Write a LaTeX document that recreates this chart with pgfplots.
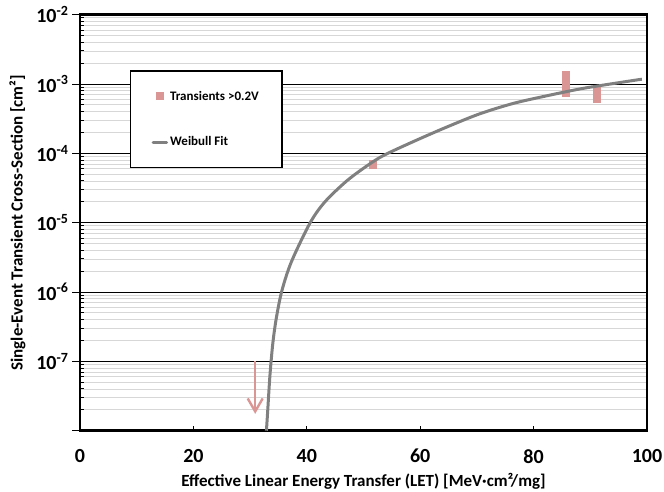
\documentclass[border=0pt]{standalone}
\usepackage{pgfplots}
\pgfplotsset{compat=1.18}
\usepackage{fontspec}
\setmainfont{Carlito}
\usetikzlibrary{arrows.meta}
\definecolor{setpink}{RGB}{217,150,148}
\definecolor{fitgray}{RGB}{128,128,128}
\definecolor{minorgray}{RGB}{215,215,215}
\begin{document}
\begin{tikzpicture}
\begin{axis}[
    scale only axis,
    width=567pt, height=416pt,
    ymode=log,
    xmin=0, xmax=100, ymin=1e-8, ymax=1e-2,
    xtick={0,20,40,60,80,100},
    ytick={1e-8,1e-7,1e-6,1e-5,1e-4,1e-3,1e-2},
    yticklabels={,10\textsuperscript{-7},10\textsuperscript{-6},10\textsuperscript{-5},10\textsuperscript{-4},10\textsuperscript{-3},10\textsuperscript{-2}},
    /pgf/number format/assume math mode=true,
    ticklabel style={font=\bfseries\fontsize{20}{22}\selectfont},
    xticklabel style={yshift=-15pt},
    xtick pos=bottom, ytick pos=left,
    xtick align=inside, ytick align=outside,
    major tick length=8pt, minor tick length=4pt,
    x tick style={black, line width=1pt, /pgfplots/major tick length=5pt},
    y tick style={black, line width=1pt},
    minor y tick style={xshift=4pt},
    ymajorgrids, yminorgrids,
    major grid style={black, line width=1pt},
    minor grid style={minorgray, line width=0.9pt},
    axis line style={black, line width=2.6pt},
    xlabel={Effective Linear Energy Transfer (LET) [MeV·cm²/mg]},
    ylabel={Single-Event Transient Cross-Section [cm²]},
    label style={font=\bfseries\fontsize{17}{19}\selectfont},
    xlabel style={yshift=-3pt},
    ylabel style={yshift=4pt},
    legend style={at={(0.088,0.866)}, anchor=north west, draw=black, line width=1.3pt,
        fill=white, font=\bfseries\fontsize{13}{15}\selectfont,
        row sep=31pt, inner xsep=21pt, inner ysep=18pt},
    legend cell align=left,
    unbounded coords=jump,
]
\addplot[setpink, line width=8pt, line cap=butt,
    legend image code/.code={\path[fill=setpink, draw=none] (2.8pt,-4pt) rectangle (10.8pt,4pt);}]
    coordinates {(51.7,5.9e-5) (51.7,8.0e-5) (60,nan)
                 (85.8,6.6e-4) (85.8,1.54e-3) (88,nan)
                 (91.2,5.4e-4) (91.2,9.7e-4)};
\addlegendentry{Transients >0.2V}
\addplot[setpink, line width=2.4pt, -{Straight Barb[length=13pt,width=15pt,line width=2.4pt]}, forget plot]
    coordinates {(30.9,1e-7) (30.9,1.75e-8)};
\addplot[fitgray, line width=3pt, smooth,
    legend image code/.code={\draw[fitgray, line width=3pt, line cap=round] (0pt,0pt) -- (13.6pt,0pt);}]
    coordinates {(32.88,1e-8) (33.1,1.9e-8) (33.5,6.3e-8) (34.0,1.8e-7) (34.6,4.1e-7)
                 (35.6,1.04e-6) (37.3,2.75e-6) (40.6,1e-5) (43.2,2.0e-5) (47.0,3.98e-5)
                 (50.6,6.6e-5) (53.5,9.3e-5) (58.8,1.48e-4) (64.7,2.4e-4) (70.5,3.72e-4)
                 (76.4,5.25e-4) (82.3,6.76e-4) (88.2,8.5e-4) (93.5,1.0e-3) (99.1,1.175e-3)};
\addlegendentry{Weibull Fit}
\end{axis}
\pgfresetboundingbox
\path ([xshift=-80pt,yshift=-60.5pt]current axis.south west) rectangle ([xshift=17pt,yshift=14.7pt]current axis.north east);
\end{tikzpicture}
\end{document}
